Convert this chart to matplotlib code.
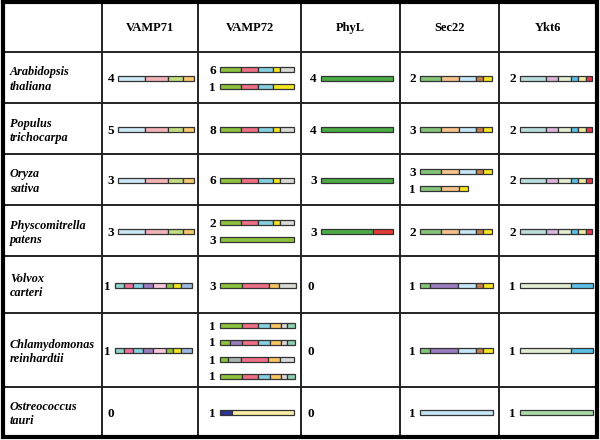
import matplotlib
matplotlib.use("Agg")
import matplotlib.pyplot as plt

# table content
species = [("Arabidopsis", "thaliana"), ("Populus", "trichocarpa"), ("Oryza", "sativa"),
           ("Physcomitrella", "patens"), ("Volvox", "carteri"),
           ("Chlamydomonas", "reinhardtii"), ("Ostreococcus", "tauri")]
genes = ["VAMP71", "VAMP72", "PhyL", "Sec22", "Ykt6"]

# domain colours
col = {
    "v71blue": "#cde8f5", "v71pink": "#f4b3b8", "v71green": "#c3dd82", "v71orange": "#f8c86e",
    "green": "#8dc23c", "pink": "#ef6f86", "cyan": "#86cfe0", "yellow": "#f6e620",
    "gray": "#d9dbd6", "orange": "#f9c563", "dgray": "#a8b4b0", "tgreen": "#8fd1b0",
    "purple": "#9a7cc0", "lpink": "#f9c6dc", "slate": "#9ab8e0", "teal": "#92d2c8",
    "hpink": "#ee6f98", "navy": "#2e3590", "pyellow": "#f9eca6",
    "phyl": "#4bab45", "red": "#e33b35",
    "sgreen": "#86c47a", "peach": "#f7c38d", "sblue": "#c6e6f8", "brown": "#c57c45",
    "ytteal": "#b9dede", "lilac": "#d9b5d9", "pgreen": "#e2eed3", "yblue": "#5bbfe6",
    "ypale": "#efeaa6", "yred": "#e8374b", "ogreen": "#a9d9a5",
}

# domain architectures: (length, colour key)
v71_land = [(27, "v71blue"), (23, "v71pink"), (15, "v71green"), (11, "v71orange")]
v71_alga = [(9, "teal"), (9, "hpink"), (10, "cyan"), (10, "purple"), (13, "lpink"),
            (7, "green"), (8, "yellow"), (11, "slate")]
v72_a = [(21, "green"), (17, "pink"), (15, "cyan"), (7, "yellow"), (14, "gray")]
v72_b = [(21, "green"), (17, "pink"), (15, "cyan"), (21, "yellow")]
v72_long = [(74, "green")]
v72_volvox = [(22, "green"), (27, "pink"), (10, "orange"), (17, "gray")]
v72_ch1 = [(22, "green"), (16, "pink"), (12, "cyan"), (11, "orange"), (6, "gray"), (8, "tgreen")]
v72_ch2 = [(10, "green"), (12, "purple"), (16, "pink"), (12, "cyan"), (11, "orange"), (6, "gray"), (8, "tgreen")]
v72_ch3 = [(8, "green"), (13, "dgray"), (27, "pink"), (12, "orange"), (14, "gray")]
v72_ostreo = [(12, "navy"), (62, "pyellow")]
phyl_std = [(72, "phyl")]
phyl_moss = [(52, "phyl"), (20, "red")]
sec_std = [(21, "sgreen"), (18, "peach"), (17, "sblue"), (7, "brown"), (9, "yellow")]
sec_short = [(21, "sgreen"), (18, "peach"), (9, "yellow")]
sec_alga = [(10, "sgreen"), (28, "purple"), (18, "sblue"), (7, "brown"), (10, "yellow")]
sec_ostreo = [(73, "sblue")]
ykt_std = [(26, "ytteal"), (12, "lilac"), (13, "pgreen"), (7, "yblue"), (8, "ypale"), (6, "yred")]
ykt_alga = [(51, "pgreen"), (22, "yblue")]
ykt_ostreo = [(73, "ogreen")]

# each cell: list of (gene count, architecture); [(0, None)] = absent
vamp71 = [[(4, v71_land)], [(5, v71_land)], [(3, v71_land)], [(3, v71_land)],
          [(1, v71_alga)], [(1, v71_alga)], [(0, None)]]
vamp72 = [[(6, v72_a), (1, v72_b)], [(8, v72_a)], [(6, v72_a)], [(2, v72_a), (3, v72_long)],
          [(3, v72_volvox)], [(1, v72_ch1), (1, v72_ch2), (1, v72_ch3), (1, v72_ch1)],
          [(1, v72_ostreo)]]
phyl = [[(4, phyl_std)], [(4, phyl_std)], [(3, phyl_std)], [(3, phyl_moss)],
        [(0, None)], [(0, None)], [(0, None)]]
sec22 = [[(2, sec_std)], [(3, sec_std)], [(3, sec_std), (1, sec_short)], [(2, sec_std)],
         [(1, sec_alga)], [(1, sec_alga)], [(1, sec_ostreo)]]
ykt6 = [[(2, ykt_std)], [(2, ykt_std)], [(2, ykt_std)], [(2, ykt_std)],
        [(1, ykt_alga)], [(1, ykt_alga)], [(1, ykt_ostreo)]]
columns = [vamp71, vamp72, phyl, sec22, ykt6]

# layout (pixel units)
col_edges = [3, 102, 198, 301, 400, 499, 597]
row_edges = [2, 52, 103, 154, 205, 256, 313, 387, 437]
bar_start = [118, 220, 321, 420, 520]
bar_h = 5
bar_gap = 17

serif = ["Liberation Serif", "DejaVu Serif"]

fig = plt.figure(figsize=(6, 4.4), dpi=100)
ax = fig.add_axes([0, 0, 1, 1])
ax.set_xlim(0, 600)
ax.set_ylim(440, 0)
ax.axis("off")

# grid
for x in col_edges[1:-1]:
    ax.plot([x, x], [row_edges[0], row_edges[-1]], color="#222222", lw=1.4)
for y in row_edges[1:-1]:
    ax.plot([col_edges[0], col_edges[-1]], [y, y], color="#222222", lw=1.4)
ax.plot([col_edges[0], col_edges[-1], col_edges[-1], col_edges[0], col_edges[0]],
        [row_edges[0], row_edges[0], row_edges[-1], row_edges[-1], row_edges[0]],
        color="black", lw=3, solid_joinstyle="miter")

# header
for j, g in enumerate(genes):
    ax.text((col_edges[j + 1] + col_edges[j + 2]) / 2, 28, g, ha="center", va="center",
            family=serif, fontweight="bold", fontsize=9)

# species names
for i, (genus, sp) in enumerate(species):
    yc = (row_edges[i + 1] + row_edges[i + 2]) / 2
    ax.text(10, yc - 5, genus, ha="left", va="center", family=serif,
            fontweight="bold", fontstyle="italic", fontsize=8.8)
    ax.text(10, yc + 9, sp, ha="left", va="center", family=serif,
            fontweight="bold", fontstyle="italic", fontsize=8.8)

# bars
for j, cells in enumerate(columns):
    for i, cell in enumerate(cells):
        yc = (row_edges[i + 1] + row_edges[i + 2]) / 2 + 1
        n = len(cell)
        for k, (count, arch) in enumerate(cell):
            y = yc + (k - (n - 1) / 2) * bar_gap
            x0 = bar_start[j]
            if arch is not None and len(arch) == 8:
                x0 = 115
            if arch is None:
                ax.text(col_edges[j + 1] + 6, y + 1, str(count), ha="left", va="center",
                        family=serif, fontweight="bold", fontsize=9.5)
                continue
            ax.text(x0 - 4, y + 1, str(count), ha="right", va="center",
                    family=serif, fontweight="bold", fontsize=9.5)
            left = x0
            for length, c in arch:
                ax.barh(y, length, left=left, height=bar_h, color=col[c],
                        edgecolor="#333333", linewidth=0.9)
                left += length

fig.savefig("out.png", dpi=100)
